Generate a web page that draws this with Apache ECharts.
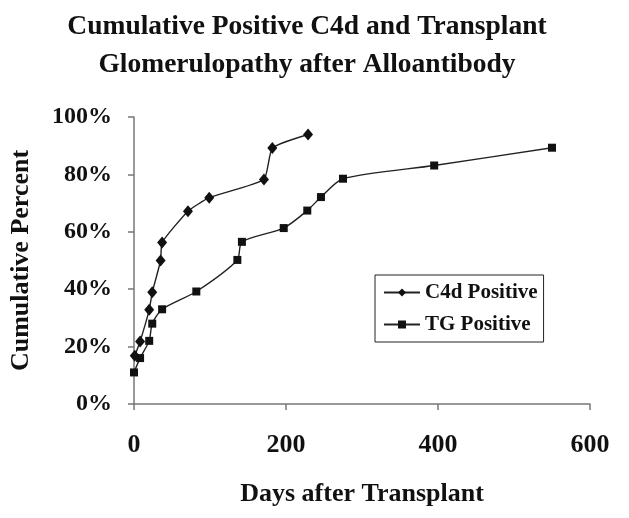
<!DOCTYPE html>
<html><head><meta charset="utf-8">
<script src="https://cdn.jsdelivr.net/npm/echarts@6/dist/echarts.min.js"></script>
<style>html,body{margin:0;padding:0;background:#fff;}#c{width:629px;height:518px;}</style>
</head><body><div id="c"></div>
<script>
const c4dDays = [1, 8, 20, 24, 35, 37, 71, 99, 171, 182, 229];
const c4dPct  = [16.8, 21.8, 32.8, 38.9, 50.0, 56.3, 67.2, 71.9, 78.2, 89.2, 93.9];
const tgDays  = [0, 8, 20, 24, 37, 82, 136, 142, 197, 228, 246, 275, 395, 550];
const tgPct   = [11.0, 16.0, 22.0, 28.0, 33.0, 39.2, 50.2, 56.5, 61.3, 67.4, 72.1, 78.5, 83.1, 89.3];
const xTicks = [0, 200, 400, 600];
const yTicks = [0, 20, 40, 60, 80, 100];

const F = 'Liberation Serif, Times New Roman, serif';
const chart = echarts.init(document.getElementById('c'));
chart.setOption({
  animation: false,
  backgroundColor: '#fff',
  title: {
    text: 'Cumulative Positive C4d and Transplant\nGlomerulopathy after Alloantibody',
    left: 302, top: 3, textAlign: 'center',
    textStyle: {fontFamily: F, fontWeight: 'bold', fontSize: 27.5, lineHeight: 38, color: '#111'}
  },
  grid: {left: 134, top: 117, width: 456, height: 287, containLabel: false},
  legend: {
    orient: 'vertical', left: 375, top: 275,
    data: ['C4d Positive', 'TG Positive'],
    itemWidth: 36, itemHeight: 10, itemGap: 11,
    padding: [7, 6, 7, 8],
    borderColor: '#222', borderWidth: 1,
    textStyle: {fontFamily: F, fontWeight: 'bold', fontSize: 21, color: '#111'}
  },
  xAxis: {
    type: 'value', min: 0, max: 600, interval: 200,
    name: 'Days after Transplant', nameLocation: 'middle', nameGap: 77,
    nameTextStyle: {fontFamily: F, fontWeight: 'bold', fontSize: 26, color: '#111'},
    axisLine: {show: true, lineStyle: {color: '#777', width: 1.5}},
    axisTick: {show: true, length: 6, lineStyle: {color: '#777', width: 1.5}},
    splitLine: {show: false},
    axisLabel: {fontFamily: F, fontWeight: 'bold', fontSize: 26, color: '#111', margin: 28,
      customValues: xTicks}
  },
  yAxis: {
    type: 'value', min: 0, max: 100, interval: 20,
    name: 'Cumulative Percent', nameLocation: 'middle', nameGap: 100, nameRotate: 90,
    nameTextStyle: {fontFamily: F, fontWeight: 'bold', fontSize: 26, color: '#111'},
    axisLine: {show: true, lineStyle: {color: '#777', width: 1.5}},
    axisTick: {show: true, length: 6, lineStyle: {color: '#777', width: 1.5}},
    splitLine: {show: false},
    axisLabel: {fontFamily: F, fontWeight: 'bold', fontSize: 24, color: '#111', margin: 22,
      formatter: v => v + '%'}
  },
  series: [
    {
      name: 'C4d Positive', type: 'line', smooth: 0.15,
      data: c4dDays.map((d, i) => [d, c4dPct[i]]),
      symbol: 'diamond', symbolSize: [10, 12],
      itemStyle: {color: '#111'}, lineStyle: {color: '#222', width: 1.4}
    },
    {
      name: 'TG Positive', type: 'line', smooth: 0.25,
      data: tgDays.map((d, i) => [d, tgPct[i]]),
      symbol: 'rect', symbolSize: 8,
      itemStyle: {color: '#111'}, lineStyle: {color: '#222', width: 1.4}
    }
  ]
});
</script></body></html>
